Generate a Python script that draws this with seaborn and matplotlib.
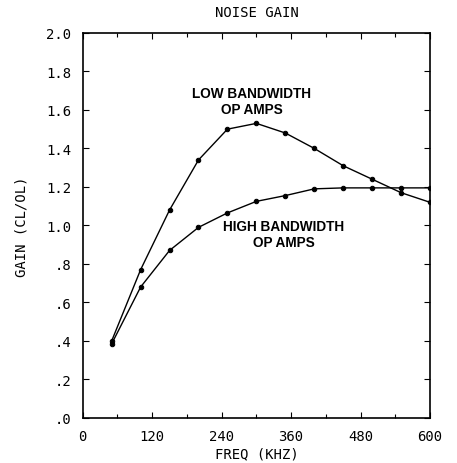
import matplotlib
matplotlib.use("Agg")
import matplotlib.pyplot as plt
import seaborn as sns
import pandas as pd
from matplotlib.ticker import MultipleLocator

freq_khz = [50, 100, 150, 200, 250, 300, 350, 400, 450, 500, 550, 600]
low_bw_gain = [0.40, 0.77, 1.08, 1.34, 1.50, 1.53, 1.48, 1.40, 1.31, 1.24, 1.17, 1.12]
high_bw_gain = [0.385, 0.68, 0.87, 0.99, 1.065, 1.125, 1.155, 1.19, 1.195, 1.195, 1.195, 1.195]
y_ticks = [0.0, 0.2, 0.4, 0.6, 0.8, 1.0, 1.2, 1.4, 1.6, 1.8, 2.0]
y_tick_labels = [".0", ".2", ".4", ".6", ".8", "1.0", "1.2", "1.4", "1.6", "1.8", "2.0"]
x_ticks = [0, 120, 240, 360, 480, 600]

sns.set_style("ticks")
plt.rcParams["font.family"] = ["DejaVu Sans Mono"]
plt.rcParams["text.color"] = "black"
plt.rcParams["axes.labelcolor"] = "black"
plt.rcParams["xtick.color"] = "black"
plt.rcParams["ytick.color"] = "black"

df = pd.DataFrame({
    "freq": freq_khz * 2,
    "gain": low_bw_gain + high_bw_gain,
    "series": ["low"] * len(freq_khz) + ["high"] * len(freq_khz),
})

fig = plt.figure(figsize=(4.57, 4.64), dpi=100)
ax = fig.add_axes([0.181, 0.097, 0.760, 0.830])

sns.lineplot(data=df, x="freq", y="gain", hue="series", palette={"low": "black", "high": "black"},
             marker="o", markersize=3.2, markeredgecolor="black", linewidth=1.0,
             legend=False, ax=ax, sort=False)

ax.set_xlim(0, 600)
ax.set_ylim(0, 2.0)
ax.set_xticks(x_ticks)
ax.set_xticklabels([str(v) for v in x_ticks])
ax.xaxis.set_minor_locator(MultipleLocator(60))
ax.set_yticks(y_ticks)
ax.set_yticklabels(y_tick_labels)
ax.tick_params(which="both", direction="in", top=True, right=True, labelsize=10,
               color="black", labelcolor="black", width=0.8)
ax.tick_params(which="major", length=4, pad=8)
ax.tick_params(which="minor", length=3)
for s in ax.spines.values():
    s.set_linewidth(1.2)
    s.set_color("black")

ax.set_xlabel("FREQ (KHZ)", fontsize=10, labelpad=2, color="black")
ax.set_ylabel("GAIN (CL/OL)", fontsize=10, labelpad=20, color="black")
ax.yaxis.set_label_coords(-0.155, 0.5)
ax.set_title("NOISE GAIN", fontsize=10, pad=12, color="black")

ann_font = dict(family="Liberation Sans", fontweight="bold", fontsize=9.8, ha="center",
                va="center", color="black")
ax.text(292, 1.645, "LOW BANDWIDTH\nOP AMPS", linespacing=1.2, **ann_font)
ax.text(347, 0.955, "HIGH BANDWIDTH\nOP AMPS", linespacing=1.2, **ann_font)

fig.savefig("out.png", dpi=100)
